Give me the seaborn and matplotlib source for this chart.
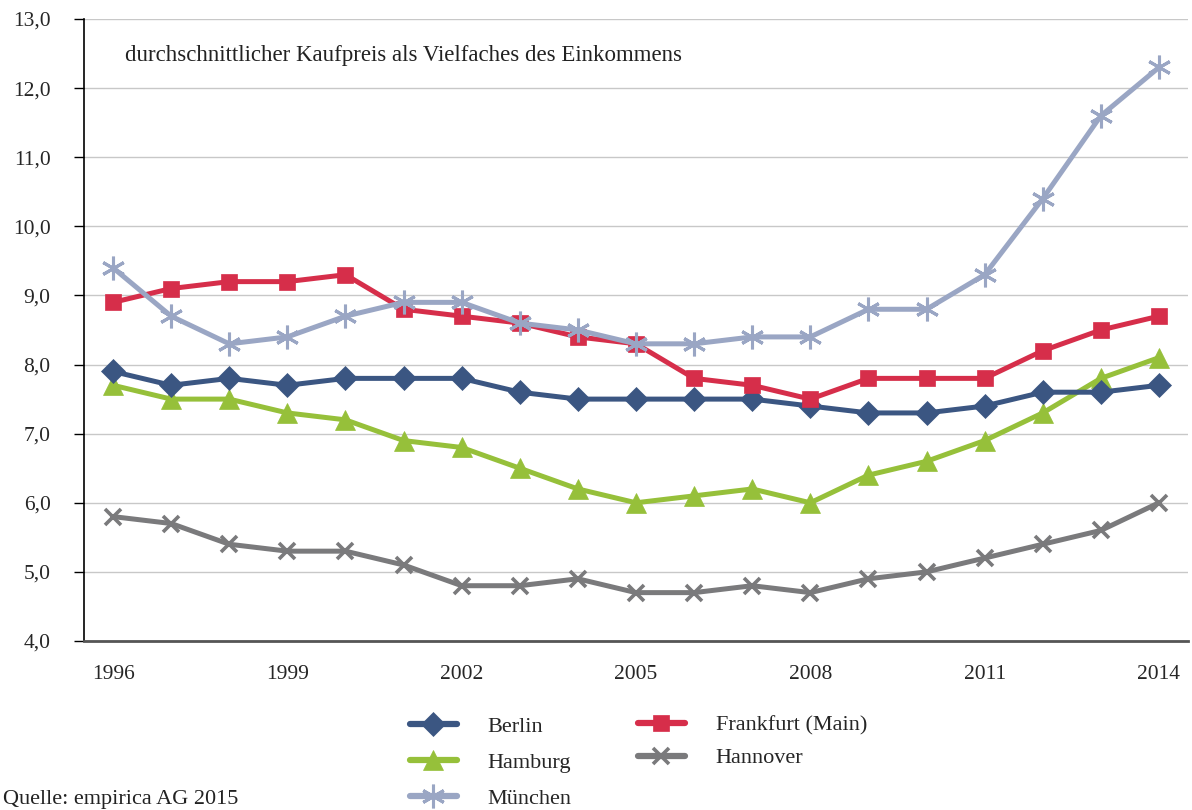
import pandas as pd
import matplotlib.pyplot as plt
import seaborn as sns
from matplotlib.lines import Line2D
from matplotlib.ticker import FixedLocator, FuncFormatter

# Daten
jahre = list(range(1996, 2015))
berlin = [7.9, 7.7, 7.8, 7.7, 7.8, 7.8, 7.8, 7.6, 7.5, 7.5, 7.5, 7.5, 7.4, 7.3, 7.3, 7.4, 7.6, 7.6, 7.7]
frankfurt = [8.9, 9.1, 9.2, 9.2, 9.3, 8.8, 8.7, 8.6, 8.4, 8.3, 7.8, 7.7, 7.5, 7.8, 7.8, 7.8, 8.2, 8.5, 8.7]
muenchen = [9.4, 8.7, 8.3, 8.4, 8.7, 8.9, 8.9, 8.6, 8.5, 8.3, 8.3, 8.4, 8.4, 8.8, 8.8, 9.3, 10.4, 11.6, 12.3]
hamburg = [7.7, 7.5, 7.5, 7.3, 7.2, 6.9, 6.8, 6.5, 6.2, 6.0, 6.1, 6.2, 6.0, 6.4, 6.6, 6.9, 7.3, 7.8, 8.1]
hannover = [5.8, 5.7, 5.4, 5.3, 5.3, 5.1, 4.8, 4.8, 4.9, 4.7, 4.7, 4.8, 4.7, 4.9, 5.0, 5.2, 5.4, 5.6, 6.0]
tick_jahre = [1996, 1999, 2002, 2005, 2008, 2011, 2014]

# Stil der Reihen: (Name, Werte, Farbe, Marker, Größe, Kantenbreite)
reihen = [
    ('Hannover', hannover, '#7a7a7c', 'x', 12, 2.6),
    ('Hamburg', hamburg, '#96c03a', '^', 14, 0),
    ('Berlin', berlin, '#3b5682', 'D', 12, 0),
    ('Frankfurt (Main)', frankfurt, '#d62e4a', 's', 12, 0),
    ('München', muenchen, '#9aa6c4', (6, 2, 0), 17, 2.2),
]

sns.set_style("white")
plt.rcParams['font.family'] = ['Liberation Serif', 'DejaVu Serif']
fs = 16

fig = plt.figure(figsize=(11.92, 8.1), dpi=100)
ax = fig.add_axes([84 / 1192, 1 - 641 / 810, (1188 - 84) / 1192, (641 - 19) / 810])

handles = {}
for name, werte, farbe, marker, ms, mew in reihen:
    df = pd.DataFrame({'jahr': jahre, 'wert': werte})
    sns.lineplot(data=df, x='jahr', y='wert', ax=ax, color=farbe, lw=3.6,
                 marker=marker, markersize=ms, markeredgecolor=farbe,
                 markeredgewidth=mew if mew else 0.5, zorder=3)
    handles[name] = Line2D([], [], color=farbe, lw=4.5, marker=marker,
                           markersize=ms, markeredgecolor=farbe,
                           markeredgewidth=mew if mew else 0.5)

ax.set_xlim(1995.5, 2014.5)
ax.set_ylim(4, 13)
ax.set_yticks(range(4, 14))
ax.yaxis.set_major_formatter(FuncFormatter(lambda v, p: f'{v:.1f}'.replace('.', ',')))
ax.set_xticks(tick_jahre)
ax.xaxis.set_minor_locator(FixedLocator([j - 0.5 for j in jahre] + [2014.5]))
ax.tick_params(axis='x', which='major', length=0, pad=17, labelsize=15.5)
ax.tick_params(axis='x', which='minor', length=8.6, width=1, color='#333333', direction='out')
ax.tick_params(axis='y', length=7, width=1, color='black', labelsize=15.5, pad=17, left=True)
ax.set_xlabel('')
ax.set_ylabel('')
ax.grid(axis='y', color='#c8c8c8', lw=1)
ax.set_axisbelow(True)

for s in ['top', 'right']:
    ax.spines[s].set_visible(False)
ax.spines['left'].set_color('black')
ax.spines['left'].set_linewidth(1.2)
ax.spines['bottom'].set_color('#555555')
ax.spines['bottom'].set_linewidth(2)

fig.text(125 / 1192, 1 - 55 / 810, 'durchschnittlicher Kaufpreis als Vielfaches des Einkommens',
         fontsize=16.5, va='center', ha='left', color='#222222')

leg_kw = dict(frameon=False, fontsize=fs, handlelength=2.1, handletextpad=1.4,
              loc='upper left', borderaxespad=0, borderpad=0)
leg1 = fig.legend([handles[n] for n in ['Berlin', 'Hamburg', 'München']],
                  ['Berlin', 'Hamburg', 'München'], labelspacing=0.7,
                  bbox_to_anchor=(410 / 1192, 1 - 716 / 810), **leg_kw)
leg2 = fig.legend([handles[n] for n in ['Frankfurt (Main)', 'Hannover']],
                  ['Frankfurt (Main)', 'Hannover'], labelspacing=0.55,
                  bbox_to_anchor=(638 / 1192, 1 - 715 / 810), **leg_kw)

fig.text(3 / 1192, 1 / 810, 'Quelle: empirica AG 2015',
         ha='left', va='bottom', fontsize=fs, color='#222222')

plt.savefig('out.png', dpi=100)
